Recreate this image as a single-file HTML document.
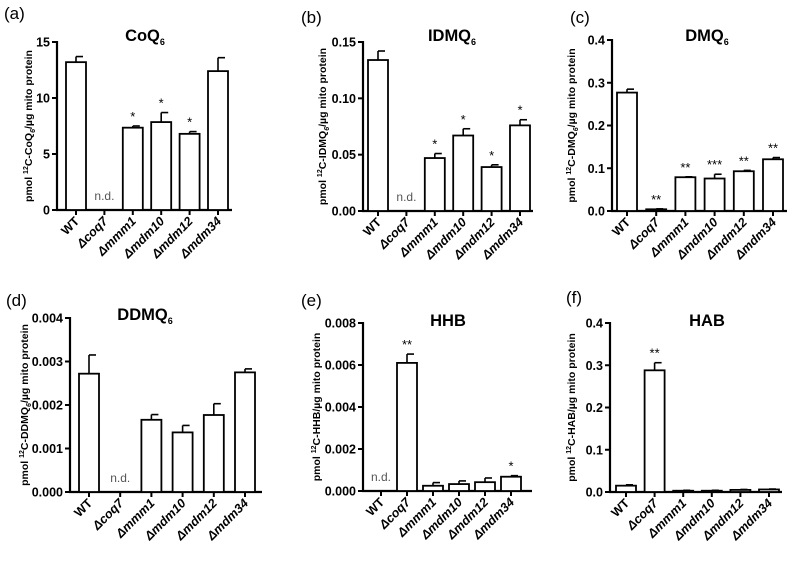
<!DOCTYPE html>
<html><head><meta charset="utf-8"><style>
body{margin:0;background:#fff}
svg{display:block;font-family:"Liberation Sans",Arial,sans-serif}
</style></head><body>
<svg id="fig" width="800" height="561" viewBox="0 0 800 561" xmlns="http://www.w3.org/2000/svg"></svg>
<script>
const categories = ["WT","Δcoq7","Δmmm1","Δmdm10","Δmdm12","Δmdm34"];
const valuesA = [13.2, null, 7.35, 7.85, 6.8, 12.4];
const errorsA = [0.5, 0, 0.15, 0.85, 0.2, 1.2];
const starsA = ["","","*","*","*",""];
const ticksA = ["0","5","10","15"];
const valuesB = [0.134, null, 0.047, 0.067, 0.039, 0.076];
const errorsB = [0.008, 0, 0.004, 0.006, 0.002, 0.005];
const starsB = ["","","*","*","*","*"];
const ticksB = ["0.00","0.05","0.10","0.15"];
const valuesC = [0.277, 0.004, 0.079, 0.076, 0.093, 0.121];
const errorsC = [0.008, 0.001, 0.001, 0.010, 0.002, 0.004];
const starsC = ["","**","**","***","**","**"];
const ticksC = ["0.0","0.1","0.2","0.3","0.4"];
const valuesD = [0.00272, null, 0.00166, 0.00137, 0.00177, 0.00275];
const errorsD = [0.00043, 0, 0.00012, 0.00016, 0.00026, 0.00008];
const starsD = ["","","","","",""];
const ticksD = ["0.000","0.001","0.002","0.003","0.004"];
const valuesE = [null, 0.0061, 0.00025, 0.00033, 0.00042, 0.00068];
const errorsE = [0, 0.00042, 0.00015, 0.00015, 0.0002, 0.00005];
const starsE = ["","**","","","","*"];
const ticksE = ["0.000","0.002","0.004","0.006","0.008"];
const valuesF = [0.015, 0.288, 0.003, 0.003, 0.005, 0.006];
const errorsF = [0.002, 0.018, 0.001, 0.001, 0.001, 0.001];
const starsF = ["","**","","","",""];
const ticksF = ["0.0","0.1","0.2","0.3","0.4"];

const NS="http://www.w3.org/2000/svg";
const svg=document.getElementById('fig');
function mk(tag,attrs,parent,text){const e=document.createElementNS(NS,tag);for(const k in attrs)e.setAttribute(k,attrs[k]);if(text!==undefined)e.textContent=text;(parent||svg).appendChild(e);return e;}

const panels=[
 {id:'a',letter:'(a)',lx:4,ly:19,title:'CoQ',sub:'6',tx:145,ty:41,ax:57,top:42,zero:210,xr:232,c0:76,sp:28.4,vals:valuesA,errs:errorsA,stars:starsA,ticks:ticksA,ytx:32,ylab:['CoQ','6']},
 {id:'b',letter:'(b)',lx:301,ly:23,title:'IDMQ',sub:'6',tx:452,ty:41,ax:363,top:42,zero:211,xr:533,c0:378,sp:28.4,vals:valuesB,errs:errorsB,stars:starsB,ticks:ticksB,ytx:326,ylab:['IDMQ','6']},
 {id:'c',letter:'(c)',lx:570,ly:23,title:'DMQ',sub:'6',tx:707,ty:41,ax:612,top:40,zero:211,xr:787,c0:627,sp:29.2,vals:valuesC,errs:errorsC,stars:starsC,ticks:ticksC,ytx:575,ylab:['DMQ','6']},
 {id:'d',letter:'(d)',lx:6,ly:306,title:'DDMQ',sub:'6',tx:145,ty:320,ax:70,top:318,zero:492,xr:262,c0:89,sp:31.2,vals:valuesD,errs:errorsD,stars:starsD,ticks:ticksD,ytx:28,ylab:['DDMQ','6']},
 {id:'e',letter:'(e)',lx:301,ly:306,title:'HHB',sub:'',tx:448,ty:326,ax:363,top:323,zero:491,xr:532,c0:381,sp:26,vals:valuesE,errs:errorsE,stars:starsE,ticks:ticksE,ytx:320,ylab:['HHB','']},
 {id:'f',letter:'(f)',lx:566,ly:303,title:'HAB',sub:'',tx:707,ty:326,ax:610,top:323,zero:492,xr:782,c0:626,sp:28.6,vals:valuesF,errs:errorsF,stars:starsF,ticks:ticksF,ytx:575,ylab:['HAB','']}
];

panels.forEach(p=>{
 const g=mk('g',{});
 
 
 const max=parseFloat(p.ticks[p.ticks.length-1]);
 const y=v=>p.zero-(v/max)*(p.zero-p.top);
 const x=i=>p.c0+i*p.sp;
 const lt=mk('text',{x:p.lx,y:p.ly,'font-size':17},g,p.letter);
 
 
 const tt=mk('text',{x:p.tx,y:p.ty,'font-size':16.5,'font-weight':'bold','text-anchor':'middle'},g,p.title);
 
 
 if(p.sub){mk('tspan',{'font-size':9,dy:4},tt,p.sub);}
 const yt=mk('text',{transform:`translate(${p.ytx},${(p.top+p.zero)/2}) rotate(-90)`,'font-size':10.5,'font-weight':'bold','text-anchor':'middle'},g);
 
 
 mk('tspan',{},yt,'pmol ');
 mk('tspan',{'font-size':7,dy:-4},yt,'12');
 mk('tspan',{dy:4},yt,'C-'+p.ylab[0]);
 if(p.ylab[1]){mk('tspan',{'font-size':7,dy:3,'font-style':'italic'},yt,p.ylab[1]);mk('tspan',{dy:-3},yt,'/µg mito protein');}
 else mk('tspan',{},yt,'/µg mito protein');
 const ya=mk('line',{x1:p.ax,y1:p.top-1,x2:p.ax,y2:p.zero+1,stroke:'#000','stroke-width':2.2},g);
 
 
 const xa=mk('line',{x1:p.ax-1,y1:p.zero,x2:p.xr,y2:p.zero,stroke:'#000','stroke-width':2.2},g);
 
 
 p.ticks.forEach(t=>{
  const v=parseFloat(t),yy=y(v);
  mk('line',{x1:p.ax-5,y1:yy,x2:p.ax,y2:yy,stroke:'#000','stroke-width':2},g);
  const tl=mk('text',{x:p.ax-7,y:yy+4.5,'font-size':12.5,'font-weight':'bold','text-anchor':'end'},g,t);
  
  
 });
 categories.forEach((c,i)=>{
  const cx=x(i);
  mk('line',{x1:cx,y1:p.zero,x2:cx,y2:p.zero+5,stroke:'#000','stroke-width':2},g);
  const cl=mk('text',{transform:`translate(${cx+4},${p.zero+12}) rotate(-45)`,'font-size':12.5,'font-weight':'bold','font-style':i?'italic':'normal','text-anchor':'end'},g,c);
  
  
  const v=p.vals[i];
  if(v===null){
   const nd=mk('text',{x:cx,y:p.zero-10,'font-size':12,fill:'#555','text-anchor':'middle'},g,'n.d.');
   
   
   return;
  }
  const yv=y(v),ye=y(v+p.errs[i]);
  mk('line',{x1:cx,y1:yv,x2:cx,y2:ye,stroke:'#000','stroke-width':1.6},g);
  mk('line',{x1:cx,y1:ye,x2:cx+7,y2:ye,stroke:'#000','stroke-width':1.6},g);
  const b=mk('rect',{x:cx-10,y:yv,width:20,height:Math.max(p.zero-yv,0.5),fill:'#fff',stroke:'#000','stroke-width':1.8},g);
  
  
  if(p.stars[i]){
   const s=mk('text',{x:cx,y:ye-5,'font-size':13,'text-anchor':'middle'},g,p.stars[i]);
   
   
  }
 });
});
</script>
</body></html>
